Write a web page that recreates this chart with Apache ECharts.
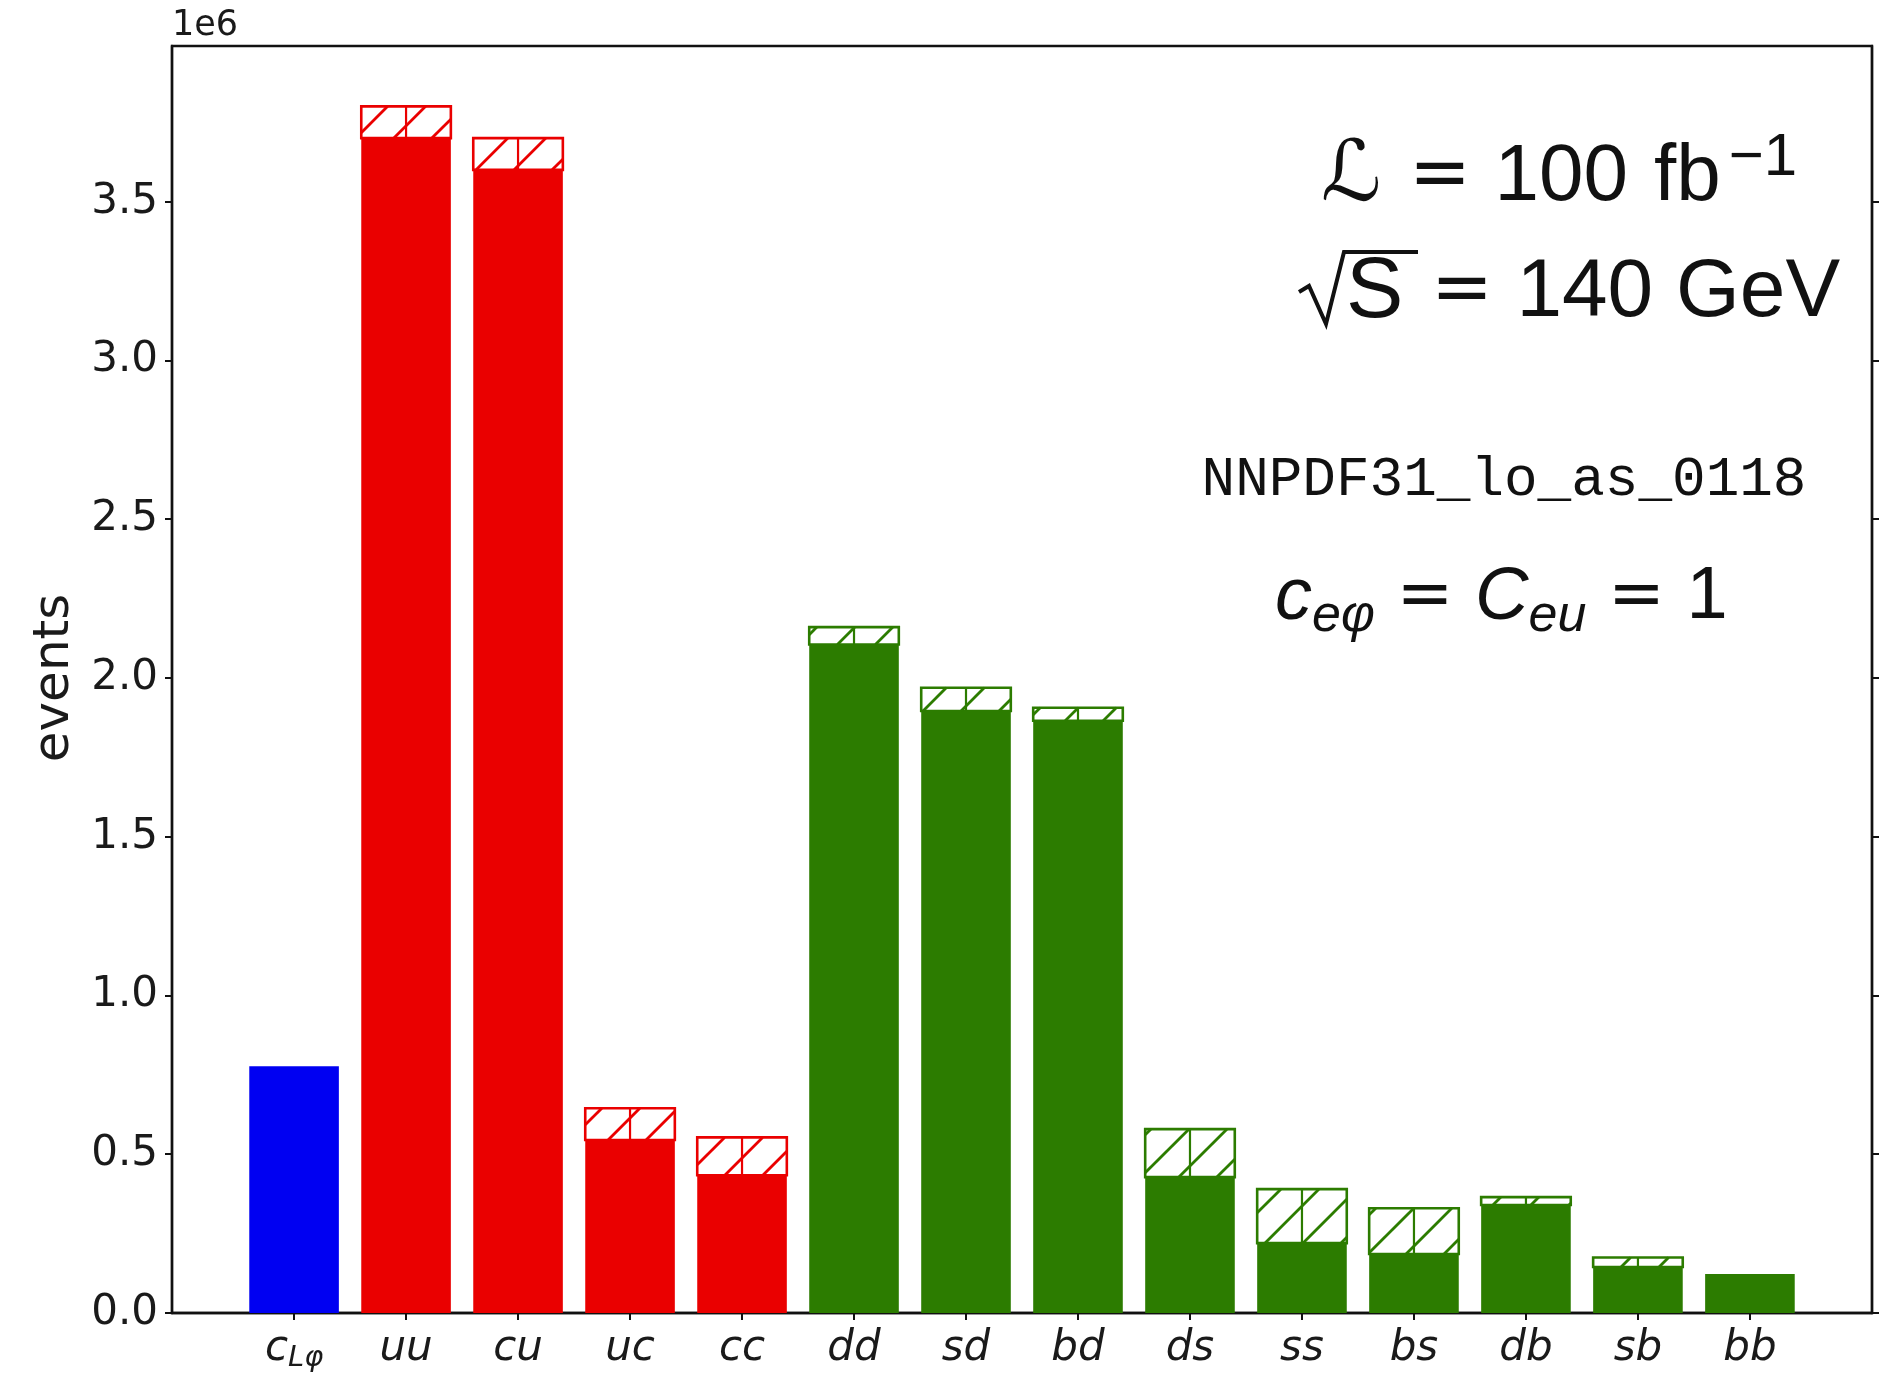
<!DOCTYPE html>
<html>
<head>
<meta charset="utf-8">
<script src="https://cdn.jsdelivr.net/npm/echarts@6/dist/echarts.min.js"></script>
<style>
  html, body { margin: 0; padding: 0; background: #ffffff; }
  #chart { width: 1895px; height: 1384px; }
</style>
</head>
<body>
<div id="chart"></div>
<script>
// Event yields per quark channel: solid part = central value, hatched part up to the upper value
const categories = ['cLφ', 'uu', 'cu', 'uc', 'cc', 'dd', 'sd', 'bd', 'ds', 'ss', 'bs', 'db', 'sb', 'bb'];
const channelFamily = ['op', 'u', 'u', 'u', 'u', 'd', 'd', 'd', 'd', 'd', 'd', 'd', 'd', 'd'];
const eventsCentral = [0.777e6, 3.70e6, 3.60e6, 0.545e6, 0.434e6, 2.105e6, 1.896e6, 1.865e6, 0.428e6, 0.220e6, 0.186e6, 0.340e6, 0.145e6, 0.123e6];
const eventsUpper   = [0.777e6, 3.80e6, 3.70e6, 0.645e6, 0.553e6, 2.160e6, 1.969e6, 1.906e6, 0.579e6, 0.390e6, 0.330e6, 0.365e6, 0.175e6, 0.123e6];
const yTickValues = [0, 0.5e6, 1.0e6, 1.5e6, 2.0e6, 2.5e6, 3.0e6, 3.5e6];

const familyColor = { op: '#0000f2', u: '#ea0000', d: '#2c7c00' };
const BAR_WIDTH = 0.8;     // in category units
const HATCH_STEP = 38;     // px between hatch lines

const barData = categories.map((c, i) => [i, eventsCentral[i], eventsUpper[i]]);
const xPositions = categories.map((c, i) => i);

function xLabel(v) {
  const name = categories[Math.round(v)];
  if (name === 'cLφ') return '{it|c}{sub|Lφ}';
  return '{it|' + name + '}';
}

function renderBar(params, api) {
  const i = api.value(0), lo = api.value(1), hi = api.value(2);
  const color = familyColor[channelFamily[i]];
  const base = api.coord([i, 0]);
  const loPt = api.coord([i, lo]);
  const hiPt = api.coord([i, hi]);
  const w = api.size([BAR_WIDTH, 0])[0];
  const x0 = base[0] - w / 2, x1 = base[0] + w / 2;
  const children = [{
    type: 'rect',
    shape: { x: x0, y: loPt[1], width: w, height: base[1] - loPt[1] },
    style: { fill: color }
  }];
  if (hi > lo) {
    const y0 = hiPt[1], y1 = loPt[1];
    children.push({
      type: 'rect',
      shape: { x: x0, y: y0, width: w, height: y1 - y0 },
      style: { fill: '#ffffff', stroke: color, lineWidth: 2.6 }
    });
    children.push({
      type: 'line',
      shape: { x1: base[0], y1: y0, x2: base[0], y2: y1 },
      style: { stroke: color, lineWidth: 2.2 }
    });
    // '/' hatch: lines x + y = k * HATCH_STEP, clipped to the cell
    const cMin = x0 + y0, cMax = x1 + y1;
    for (let c = Math.ceil(cMin / HATCH_STEP) * HATCH_STEP; c <= cMax; c += HATCH_STEP) {
      const xa = Math.max(x0, c - y1), xb = Math.min(x1, c - y0);
      if (xb - xa > 0.5) {
        children.push({
          type: 'line',
          shape: { x1: xa, y1: c - xa, x2: xb, y2: c - xb },
          style: { stroke: color, lineWidth: 2.8 }
        });
      }
    }
  }
  return { type: 'group', children: children };
}

const chart = echarts.init(document.getElementById('chart'), null, { renderer: 'canvas' });

const labelFont = 'DejaVu Sans';
const textColor = '#1a1a1a';
const ink = '#111';

chart.setOption({
  animation: false,
  backgroundColor: '#ffffff',
  grid: {
    left: 172, right: 23, top: 46, bottom: 71,
    show: true, borderColor: ink, borderWidth: 2.4, backgroundColor: 'transparent'
  },
  xAxis: {
    type: 'value',
    min: -1.09, max: 14.09,
    splitLine: { show: false },
    axisLine: { show: true, onZero: false, lineStyle: { color: ink, width: 2.4 } },
    axisTick: { show: true, customValues: xPositions, length: 7, lineStyle: { color: ink, width: 2 } },
    axisLabel: {
      show: true, customValues: xPositions, margin: 12,
      formatter: xLabel,
      rich: {
        it: { fontFamily: labelFont, fontStyle: 'italic', fontSize: 42, color: textColor, lineHeight: 48, verticalAlign: 'middle' },
        sub: { fontFamily: labelFont, fontStyle: 'italic', fontSize: 29, color: textColor, lineHeight: 36, verticalAlign: 'bottom' }
      }
    }
  },
  yAxis: [{
    type: 'value',
    min: 0, max: 3.99e6,
    position: 'left',
    splitLine: { show: false },
    axisLine: { show: true, onZero: false, lineStyle: { color: ink, width: 2.4 } },
    axisTick: { show: true, customValues: yTickValues, length: 7, lineStyle: { color: ink, width: 2 } },
    axisLabel: {
      show: true, customValues: yTickValues, margin: 14,
      fontFamily: labelFont, fontSize: 42, color: textColor,
      formatter: v => (v / 1e6).toFixed(1)
    }
  }, {
    type: 'value',
    min: 0, max: 3.99e6,
    position: 'right',
    splitLine: { show: false },
    axisLine: { show: true, onZero: false, lineStyle: { color: ink, width: 2.4 } },
    axisTick: { show: true, customValues: yTickValues, length: 7, lineStyle: { color: ink, width: 2 } },
    axisLabel: { show: false }
  }],
  series: [{
    type: 'custom',
    renderItem: renderBar,
    data: barData,
    encode: { x: 0, y: [1, 2] },
    clip: false
  }],
  graphic: [
    { type: 'text', left: 172, top: 8, style: { text: '1e6', fontFamily: labelFont, fontSize: 35, fill: textColor } },
    { type: 'text', x: 55, y: 678, rotation: Math.PI / 2,
      style: { text: 'events', fontFamily: labelFont, fontSize: 50, fill: textColor, align: 'center', verticalAlign: 'middle' } },
    // luminosity
    { type: 'text', x: 1321, y: 178,
      style: {
        text: '{cal|ℒ}{eq| = }{n|100}{fb|fb}{sup|−1}', align: 'left', verticalAlign: 'middle',
        rich: {
          cal: { fontFamily: 'DejaVu Sans', fontStyle: 'italic', fontSize: 84, fill: ink, lineHeight: 100, verticalAlign: 'middle', padding: [0, 4, 0, 0] },
          eq: { fontFamily: 'DejaVu Sans', fontSize: 74, fill: ink, lineHeight: 100, verticalAlign: 'middle' },
          n: { fontFamily: 'Liberation Sans', fontSize: 80, fill: ink, lineHeight: 100, verticalAlign: 'middle' },
          fb: { fontFamily: 'Liberation Sans', fontSize: 80, fill: ink, lineHeight: 100, verticalAlign: 'middle', padding: [0, 0, 0, 26] },
          sup: { fontFamily: 'Liberation Sans', fontSize: 60, fill: ink, lineHeight: 60, verticalAlign: 'top', padding: [0, 0, 0, 8] }
        }
      } },
    // centre-of-mass energy: radical sign drawn as a stroke, then the text
    { type: 'polyline', shape: { points: [[1299, 292], [1309, 286], [1326, 324], [1344, 252], [1418, 252]] },
      style: { stroke: ink, lineWidth: 4, fill: null, lineJoin: 'miter' } },
    { type: 'text', x: 1346, y: 293,
      style: {
        text: '{s|S}{eq| = }{n|140 GeV}', align: 'left', verticalAlign: 'middle',
        rich: {
          s: { fontFamily: 'Liberation Sans', fontSize: 86, fill: ink, lineHeight: 100, verticalAlign: 'middle', padding: [0, 4, 0, 0] },
          eq: { fontFamily: 'DejaVu Sans', fontSize: 74, fill: ink, lineHeight: 100, verticalAlign: 'middle' },
          n: { fontFamily: 'Liberation Sans', fontSize: 82, fill: ink, lineHeight: 100, verticalAlign: 'middle' }
        }
      } },
    { type: 'text', x: 1504, y: 480,
      style: { text: 'NNPDF31_lo_as_0118', fontFamily: 'Liberation Mono', fontSize: 56, fill: ink, align: 'center', verticalAlign: 'middle' } },
    { type: 'text', x: 1275, y: 598,
      style: {
        text: '{i|c}{s|eφ}{eq| = }{i|C}{s|eu}{eq| = }{n|1}', align: 'left', verticalAlign: 'middle',
        rich: {
          i: { fontFamily: 'Liberation Sans', fontStyle: 'italic', fontSize: 74, fill: ink, lineHeight: 90, verticalAlign: 'middle' },
          n: { fontFamily: 'Liberation Sans', fontSize: 74, fill: ink, lineHeight: 90, verticalAlign: 'middle' },
          eq: { fontFamily: 'DejaVu Sans', fontSize: 68, fill: ink, lineHeight: 90, verticalAlign: 'middle' },
          s: { fontFamily: 'Liberation Sans', fontStyle: 'italic', fontSize: 52, fill: ink, lineHeight: 52, verticalAlign: 'bottom' }
        }
      } }
  ]
});
</script>
</body>
</html>
